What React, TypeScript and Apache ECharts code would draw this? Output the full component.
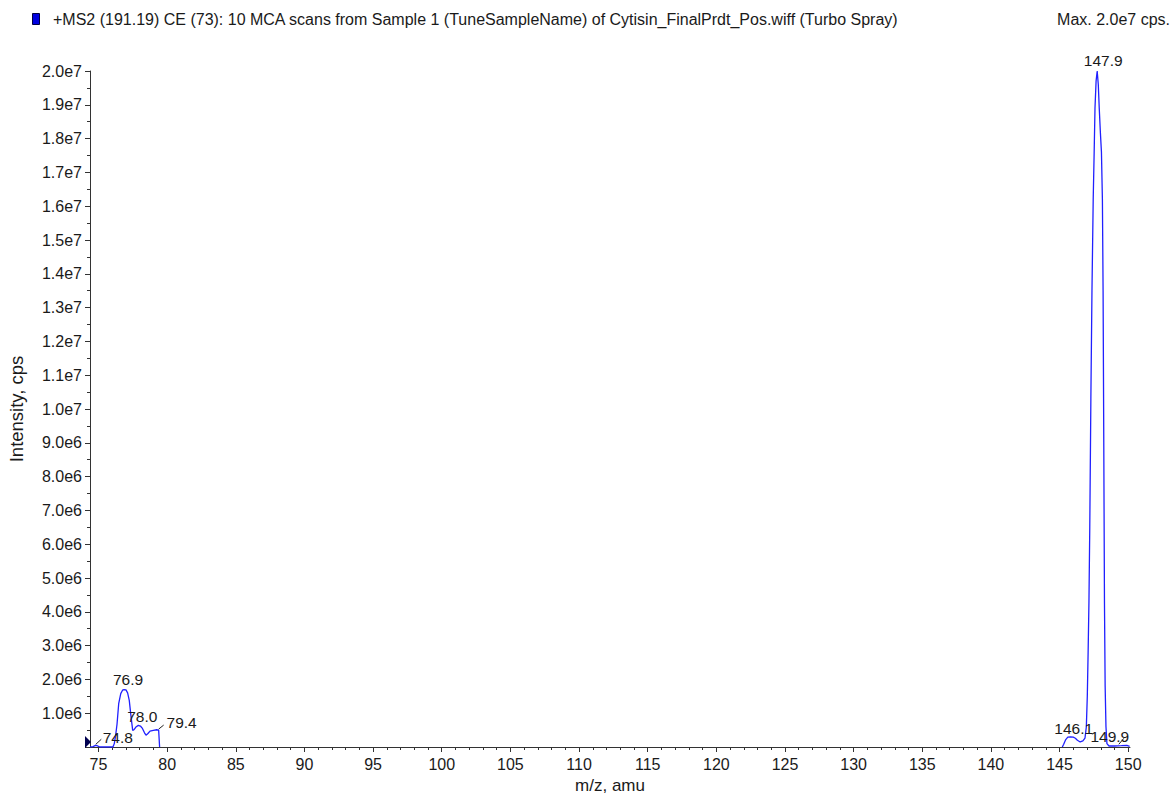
import React, { useEffect, useRef } from 'react';
import * as echarts from 'echarts';

const titleText =
  '+MS2 (191.19) CE (73): 10 MCA scans from Sample 1 (TuneSampleName) of Cytisin_FinalPrdt_Pos.wiff (Turbo Spray)';
const maxText = 'Max. 2.0e7 cps.';
const xAxisName = 'm/z, amu';
const yAxisName = 'Intensity, cps';

const xMin = 74.38;
const xMax = 150.13;
const yMin = 0;
const yMax = 2.0e7;
const yStep = 1e6;
const xMajorTicks = [75, 80, 85, 90, 95, 100, 105, 110, 115, 120, 125, 130, 135, 140, 145, 150];

// low-mass cluster (m/z, intensity in units of 1e6 cps)
const lowMz = [
  74.38, 74.6, 74.75, 74.8, 74.88, 75.1, 76.05, 76.15, 76.25, 76.35, 76.47, 76.62, 76.75, 76.86,
  77.0, 77.12, 77.24, 77.37, 77.49, 77.6, 77.75, 77.9, 78.05, 78.2, 78.35, 78.46, 78.6, 78.75,
  78.99, 79.24, 79.38, 79.42, 79.45,
];
const lowIntensity = [
  0, 0.01, 0.04, 0.05, 0.04, 0, 0, 0.1, 0.35, 0.68, 1.28, 1.58, 1.68, 1.7, 1.69, 1.6, 1.38, 0.89,
  0.49, 0.52, 0.6, 0.64, 0.62, 0.55, 0.42, 0.35, 0.4, 0.47, 0.49, 0.51, 0.5, 0.5, 0,
];

// high-mass cluster (m/z, intensity in units of 1e6 cps)
const highMz = [
  145.2, 145.3, 145.45, 145.6, 145.8, 146.0, 146.15, 146.3, 146.5, 146.7, 146.85, 146.95, 147.02,
  147.08, 147.14, 147.2, 147.28, 147.36, 147.45, 147.52, 147.58, 147.66, 147.74, 147.82, 147.89,
  147.97, 148.05, 148.12, 148.17, 148.22, 148.27, 148.32, 148.38, 148.45, 148.6, 149.0, 149.5,
  149.9, 150.1,
];
const highIntensity = [
  0, 0.08, 0.22, 0.29, 0.3, 0.29, 0.26, 0.2, 0.15, 0.18, 0.26, 0.6, 1.5, 2.8, 4.3, 6.5, 10.3, 13.5,
  16.2, 17.6, 18.9, 19.7, 20.0, 19.6, 18.9, 18.2, 17.6, 16.2, 13.5, 9.0, 4.3, 1.8, 0.6, 0.1, 0.03,
  0.03, 0.04, 0.05, 0.02,
];

// peak annotations
const peakLabelText = ['147.9', '76.9', '78.0', '79.4', '74.8', '146.1', '149.9'];
const peakLabelMz = [147.74, 76.86, 77.9, 79.38, 74.8, 146.1, 149.9];
const peakLabelIntensity = [20.0, 1.7, 0.64, 0.5, 0.05, 0.27, 0.05];

const FONT = '"Liberation Sans", Arial, sans-serif';
const LINE_COLOR = '#2020ff';
const TEXT_COLOR = '#1a1a1a';

// label placement (pixels relative to the annotated point) and optional leader segment
const labelOffsets: Array<[number, number, number[] | null]> = [
  [6, -11, null],
  [4, -10, null],
  [4, -9, null],
  [23, -8, [0, -1, 5, -5]],
  [22, -8, [0, -1, 5.5, -6]],
  [-1, -9, null],
  [-17, -9, [-8, -1, -3, -7]],
];

export default function App() {
  const ref = useRef<HTMLDivElement>(null);
  useEffect(() => {
    if (!ref.current) return;
    const chart = echarts.init(ref.current, null, { renderer: 'svg' });
    const toPairs = (xs: number[], ys: number[]) => xs.map((x, i) => [x, ys[i] * 1e6]);
    const minorX: number[] = [];
    for (let v = 75; v <= 150; v++) minorX.push(v);

    const option: any = {
      animation: false,
      backgroundColor: '#ffffff',
      textStyle: { fontFamily: FONT },
      grid: {
        left: 90,
        right: 43,
        top: 71,
        bottom: 47,
        containLabel: false,
        outerBoundsMode: 'none',
      },
      graphic: [
        {
          type: 'rect',
          left: 32,
          top: 13,
          shape: { x: 0, y: 0, width: 7, height: 11 },
          style: { fill: '#0000e0', stroke: '#000044', lineWidth: 1 },
        },
        {
          type: 'text',
          x: 53,
          y: 19,
          style: {
            text: titleText,
            font: `16px ${FONT}`,
            fill: TEXT_COLOR,
            textVerticalAlign: 'middle',
            verticalAlign: 'middle',
          },
        },
        {
          type: 'text',
          x: 1170,
          y: 19,
          style: {
            text: maxText,
            font: `16px ${FONT}`,
            fill: TEXT_COLOR,
            align: 'right',
            textAlign: 'right',
            verticalAlign: 'middle',
            textVerticalAlign: 'middle',
          },
        },
      ],
      xAxis: [
        {
          type: 'value',
          min: xMin,
          max: xMax,
          position: 'bottom',
          axisLine: { show: true, onZero: false, lineStyle: { color: '#333', width: 1 } },
          axisTick: { show: true, length: 3, customValues: minorX, lineStyle: { color: '#333' } },
          axisLabel: { show: false },
          splitLine: { show: false },
        },
        {
          type: 'value',
          min: xMin,
          max: xMax,
          position: 'bottom',
          name: xAxisName,
          nameLocation: 'middle',
          nameGap: 29,
          nameTextStyle: { fontSize: 17, lineHeight: 17, color: TEXT_COLOR, fontFamily: FONT },
          axisLine: { show: false, onZero: false },
          axisTick: { show: true, length: 5, customValues: xMajorTicks, lineStyle: { color: '#333' } },
          axisLabel: {
            show: true,
            customValues: xMajorTicks,
            fontSize: 16,
            color: TEXT_COLOR,
            fontFamily: FONT,
            margin: 9,
            formatter: (v: number) => String(v),
          },
          splitLine: { show: false },
        },
      ],
      yAxis: {
        type: 'value',
        min: yMin,
        max: yMax,
        interval: yStep,
        name: yAxisName,
        nameLocation: 'middle',
        nameGap: 64,
        nameTextStyle: { fontSize: 18.5, color: TEXT_COLOR, fontFamily: FONT },
        axisLine: { show: true, onZero: false, lineStyle: { color: '#333', width: 1 } },
        axisTick: { show: true, length: 5, lineStyle: { color: '#333' } },
        minorTick: { show: true, splitNumber: 2, length: 3, lineStyle: { color: '#333' } },
        axisLabel: {
          fontSize: 16,
          color: TEXT_COLOR,
          fontFamily: FONT,
          margin: 8,
          formatter: (v: number) => (v === 0 ? '' : v.toExponential(1).replace('+', '')),
        },
        splitLine: { show: false },
      },
      series: [
        {
          type: 'line',
          xAxisIndex: 0,
          data: toPairs(lowMz, lowIntensity),
          showSymbol: false,
          symbol: 'none',
          lineStyle: { color: LINE_COLOR, width: 1.3 },
          z: 3,
          markPoint: {
            silent: true,
            symbol: 'triangle',
            symbolSize: [12, 6],
            symbolRotate: -90,
            symbolOffset: [-2, -5],
            itemStyle: { color: '#000050' },
            label: { show: false },
            data: [{ coord: [xMin, 0] }],
          },
        },
        {
          type: 'line',
          xAxisIndex: 0,
          data: toPairs(highMz, highIntensity),
          showSymbol: false,
          symbol: 'none',
          lineStyle: { color: LINE_COLOR, width: 1.3 },
          z: 3,
        },
        {
          type: 'custom',
          xAxisIndex: 0,
          clip: false,
          z: 5,
          data: peakLabelMz.map((m, i) => [m, peakLabelIntensity[i] * 1e6]),
          renderItem: (params: any, api: any) => {
            const i = params.dataIndex;
            const p = api.coord([api.value(0), api.value(1)]);
            const o = labelOffsets[i];
            const children: any[] = [
              {
                type: 'text',
                x: p[0] + o[0],
                y: p[1] + o[1],
                style: {
                  text: peakLabelText[i],
                  font: `15.5px ${FONT}`,
                  fill: TEXT_COLOR,
                  align: 'center',
                  verticalAlign: 'middle',
                },
              },
            ];
            const l = o[2];
            if (l) {
              children.push({
                type: 'line',
                shape: { x1: p[0] + l[0], y1: p[1] + l[1], x2: p[0] + l[2], y2: p[1] + l[3] },
                style: { stroke: '#222', lineWidth: 1 },
              });
            }
            return { type: 'group', children };
          },
        },
      ],
    };
    chart.setOption(option);
    return () => chart.dispose();
  }, []);
  return (
    <div
      ref={ref}
      style={{ position: 'fixed', left: 0, top: 0, width: 1173, height: 794, background: '#fff' }}
    />
  );
}
